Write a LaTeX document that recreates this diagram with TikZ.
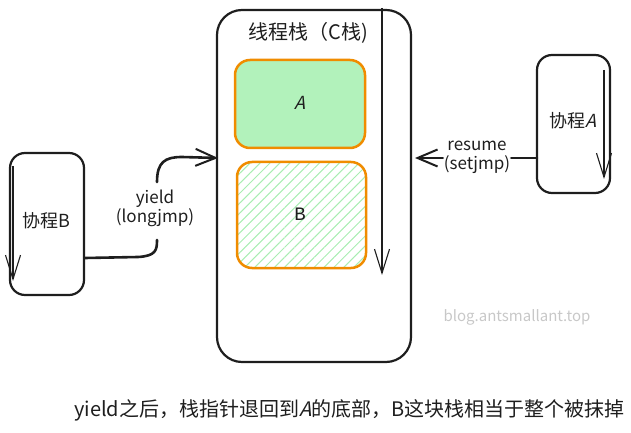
\documentclass[tikz,border=0pt]{standalone}
\usepackage{fontspec}
\setmainfont{Noto Sans CJK SC}
\newfontfamily\monofont{Liberation Mono}
\newfontfamily\slantfont[FakeSlant=0.25]{Noto Sans CJK SC}
\usetikzlibrary{arrows.meta,patterns.meta}
\definecolor{orng}{HTML}{F08C00}
\definecolor{lgreen}{HTML}{B2F2BB}
\definecolor{hatchg}{HTML}{A8EDB2}
\definecolor{wm}{HTML}{C8C8C8}
\definecolor{ink}{HTML}{1E1E1E}
\tikzset{
  outerbox/.style={draw=ink, line width=2.2bp, rounded corners=25bp, minimum width=194bp, minimum height=352bp, inner sep=0pt},
  corbox/.style={draw=ink, line width=2.2bp, rounded corners=15bp, inner sep=0pt},
  stackbox/.style={draw=orng, line width=2.5bp, rounded corners=15bp, inner sep=0pt},
  thinarrow/.style={draw=ink, line width=1.1bp, -{Straight Barb[length=24bp,width=15bp,line width=1.1bp]}},
  conn/.style={draw=ink, line width=2.6bp, line cap=round},
  connarrow/.style={conn, -{Straight Barb[length=20bp,width=17bp,line width=2bp]}},
  lbl/.style={font=\fontsize{17bp}{19bp}\selectfont, text=ink, align=center, inner sep=1bp},
}
\begin{document}
\begin{tikzpicture}[x=1bp,y=-1bp]
\useasboundingbox (0,0) rectangle (631,433);
% thread stack
\node[outerbox] (ts) at (314,186) {};
\node[font=\fontsize{20bp}{24bp}\selectfont, text=ink] (title) at (308,33) {线程栈（C栈)};
\coordinate (tsTop) at (382,8);
\coordinate (tsBot) at (382,275);
\draw[thinarrow] (tsTop) -- (tsBot);
% stack A and B
\node[stackbox, fill=lgreen, minimum width=130bp, minimum height=88bp] (sa) at (300,104) {};
\node[font=\fontsize{18bp}{20bp}\slantfont, text=ink] (saL) at (300,103) {A};
\node[stackbox, pattern={Lines[angle=45,distance=7bp,line width=1bp]}, pattern color=hatchg, minimum width=129bp, minimum height=106bp] (sb) at (301.5,215) {};
\node[font=\fontsize{19bp}{20bp}\monofont, text=ink] (sbL) at (300,214) {B};
% coroutine B
\node[corbox, minimum width=74bp, minimum height=142bp] (cob) at (47,224) {};
\node[font=\fontsize{18bp}{22bp}\selectfont, text=ink] (cobL) at (46,221) {协程B};
\coordinate (cobTop) at (13,166);
\coordinate (cobBot) at (13,281);
\draw[thinarrow] (cobTop) -- (cobBot);
% coroutine A
\node[corbox, minimum width=73bp, minimum height=138bp] (coa) at (573.5,124) {};
\node[font=\fontsize{18bp}{22bp}\selectfont, text=ink] (coaL) at (573,121) {协程{\slantfont A}};
\coordinate (coaTop) at (604,70);
\coordinate (coaBot) at (604,179);
\draw[thinarrow] (coaTop) -- (coaBot);
% yield connector
\node[lbl] (yl) at (155,208) {yield\\(longjmp)};
\coordinate (yStart) at (85,258);
\coordinate (yLow) at (157,240);
\coordinate (yUp) at (157,182);
\coordinate (yEnd) at (218,158);
\draw[conn] (yStart) -- (138,257) .. controls (156,256) and (157,250) .. (yLow);
\draw[connarrow] (yUp) .. controls (157,162) and (165,157) .. (182,157) -- (yEnd);
% resume connector
\node[lbl] (rl) at (477,157) {resume\\(setjmp)};
\coordinate (rStart) at (537,158);
\coordinate (rEnd) at (415,158);
\draw[conn] (rStart) -- (rl.east |- rStart);
\draw[connarrow] (rl.west |- rStart) -- (rEnd);
% watermark
\node[font=\fontsize{15bp}{17bp}\selectfont, text=wm] (wmk) at (517,317) {blog.antsmallant.top};
% caption
\node[font=\fontsize{20bp}{24bp}\selectfont, text=ink, anchor=west, inner sep=0pt] (cap) at (74,410) {yield之后，栈指针退回到{\slantfont A}的底部，B这块栈相当于整个被抹掉};
\end{tikzpicture}
\end{document}
